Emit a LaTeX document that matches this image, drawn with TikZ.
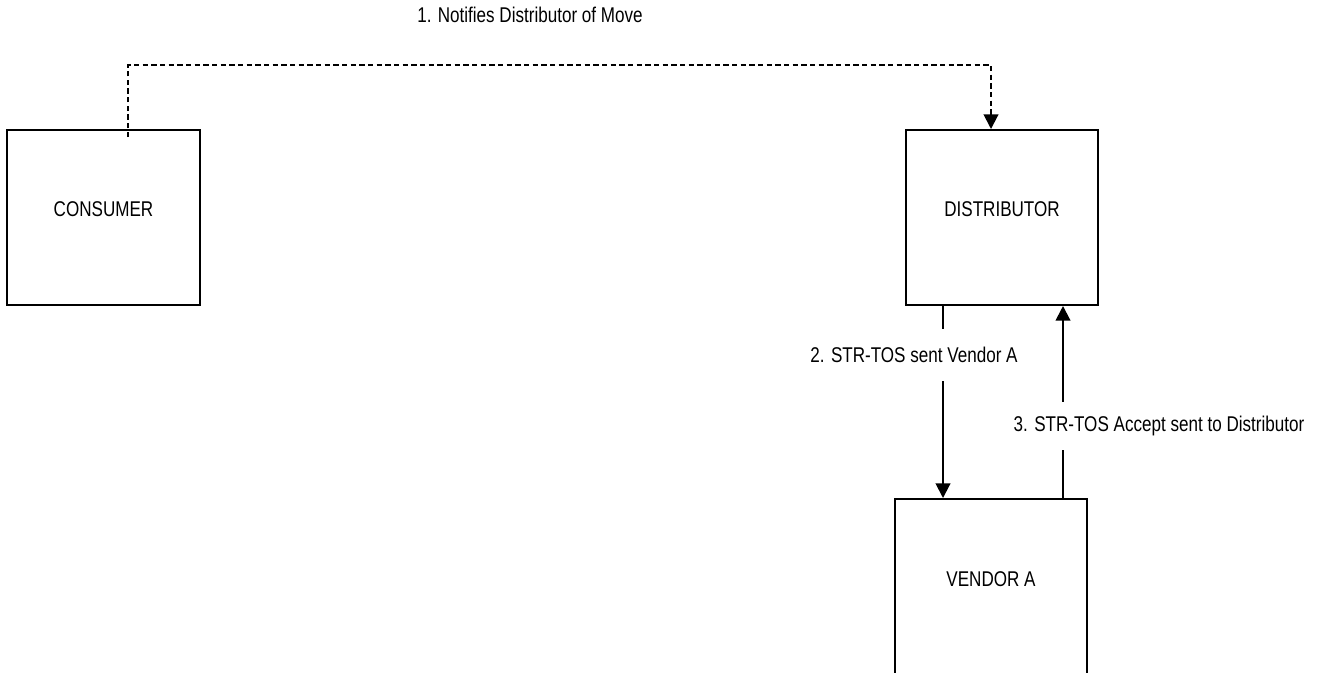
\documentclass[tikz,border=0pt]{standalone}
\usepackage{fontspec}
\setmainfont{Liberation Sans}[FakeStretch=0.8]
\usetikzlibrary{arrows.meta}
\begin{document}
\begin{tikzpicture}[x=0.75pt,y=-0.75pt,
  box/.style={draw, line width=1.5pt, minimum width=144pt, minimum height=131.25pt, inner sep=0pt, text depth=12pt, font=\fontsize{16}{19}\selectfont},
  lbl/.style={fill=white, inner xsep=1pt, inner ysep=0pt, font=\fontsize{16}{19}\selectfont},
  conn/.style={line width=1.5pt, -{Triangle[length=11pt,width=11pt]}},
  dashedconn/.style={conn, dash pattern=on 3.9pt off 2.6pt}]
\useasboundingbox (0,0) rectangle (1326,672);
\clip (0,0) rectangle (1326,672);
\node[box, minimum width=144.75pt] (consumer) at (103.5,217.5) {CONSUMER};
\node[box] (distributor) at (1002,217.5) {DISTRIBUTOR};
\node[box, minimum height=132pt] (vendor) at (991,587) {VENDOR A};
\coordinate (c1) at (128,137);
\coordinate (top1) at (991,65);
\coordinate (x2) at (943,0);
\coordinate (x3) at (1063,0);
\draw[dashedconn] (c1) |- (top1) -- (top1 |- distributor.north);
\draw[conn] (distributor.south -| x2) -- (vendor.north -| x2);
\draw[conn] (vendor.north -| x3) -- (distributor.south -| x3);
\node[lbl] (l1) at (530,15) {1. Notifies Distributor of Move};
\node[lbl, minimum height=39pt] (l2) at (914,355) {2. STR-TOS sent Vendor A};
\node[lbl, minimum height=36pt] (l3) at (1159,426) {3. STR-TOS Accept sent to Distributor};
\end{tikzpicture}
\end{document}
